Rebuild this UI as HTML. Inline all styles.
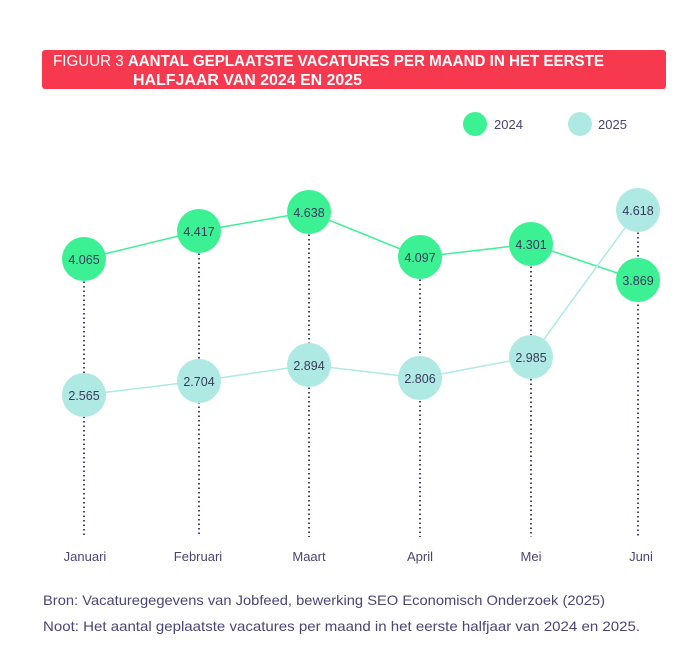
<!DOCTYPE html>
<html><head><meta charset="utf-8"><style>
body{margin:0;background:#fff;width:700px;height:666px;overflow:hidden;font-family:"Liberation Sans",sans-serif}
</style></head><body>
<svg width="700" height="666" xmlns="http://www.w3.org/2000/svg" font-family="Liberation Sans, sans-serif">
<rect x="42" y="50" width="624" height="39" rx="3" fill="#f7394f"/>
<text x="53" y="66" font-size="15.5" fill="#fff" textLength="551" lengthAdjust="spacingAndGlyphs">FIGUUR 3 <tspan font-weight="bold">AANTAL GEPLAATSTE VACATURES PER MAAND IN HET EERSTE</tspan></text>
<text x="133" y="85" font-size="15.5" fill="#fff" font-weight="bold" textLength="229" lengthAdjust="spacingAndGlyphs">HALFJAAR VAN 2024 EN 2025</text>
<circle cx="475" cy="124" r="12" fill="#3cf193"/>
<text x="494" y="129" font-size="13" fill="#4a4577">2024</text>
<circle cx="580" cy="124" r="12" fill="#aeeae3"/>
<text x="598" y="129" font-size="13" fill="#4a4577">2025</text>
<g stroke="#4a4577" stroke-width="2" stroke-dasharray="1.5 3">
<line x1="84" y1="259" x2="84" y2="537"/><line x1="199" y1="231" x2="199" y2="537"/>
<line x1="309" y1="212" x2="309" y2="537"/><line x1="420" y1="257" x2="420" y2="537"/>
<line x1="531" y1="244" x2="531" y2="537"/><line x1="638" y1="210" x2="638" y2="537"/>
</g>
<polyline points="84,259 199,231 309,212 420,257 531,244 638,280" fill="none" stroke="#3cf193" stroke-width="1.5"/>
<polyline points="84,395 199,381 309,365 420,378 531,357 638,210" fill="none" stroke="#aeeae3" stroke-width="1.5"/>
<g fill="#3cf193"><circle cx="84" cy="259" r="22"/><circle cx="199" cy="231" r="22"/><circle cx="309" cy="212" r="22"/><circle cx="420" cy="257" r="22"/><circle cx="531" cy="244" r="22"/><circle cx="638" cy="280" r="22"/></g>
<g fill="#aeeae3"><circle cx="84" cy="395" r="22"/><circle cx="199" cy="381" r="22"/><circle cx="309" cy="365" r="22"/><circle cx="420" cy="378" r="22"/><circle cx="531" cy="357" r="22"/><circle cx="638" cy="210" r="22"/></g>
<g font-size="12.5" fill="#3b3a5e" text-anchor="middle">
<text x="84" y="264">4.065</text><text x="199" y="236">4.417</text><text x="309" y="217">4.638</text><text x="420" y="262">4.097</text><text x="531" y="249">4.301</text><text x="638" y="285">3.869</text>
<text x="84" y="400">2.565</text><text x="199" y="386">2.704</text><text x="309" y="370">2.894</text><text x="420" y="383">2.806</text><text x="531" y="362">2.985</text><text x="638" y="215">4.618</text>
</g>
<g font-size="13" fill="#4a4577" text-anchor="middle">
<text x="85" y="561">Januari</text><text x="198" y="561">Februari</text><text x="309" y="561">Maart</text><text x="420" y="561">April</text><text x="531" y="561">Mei</text><text x="641" y="561">Juni</text>
</g>
<text x="43" y="605" font-size="14" fill="#4a4577" textLength="562" lengthAdjust="spacingAndGlyphs">Bron:  Vacaturegegevens van Jobfeed, bewerking SEO Economisch Onderzoek (2025)</text>
<text x="43" y="631" font-size="14" fill="#4a4577" textLength="597" lengthAdjust="spacingAndGlyphs">Noot:  Het aantal geplaatste vacatures per maand in het eerste halfjaar van 2024 en 2025.</text>
</svg>
</body></html>
